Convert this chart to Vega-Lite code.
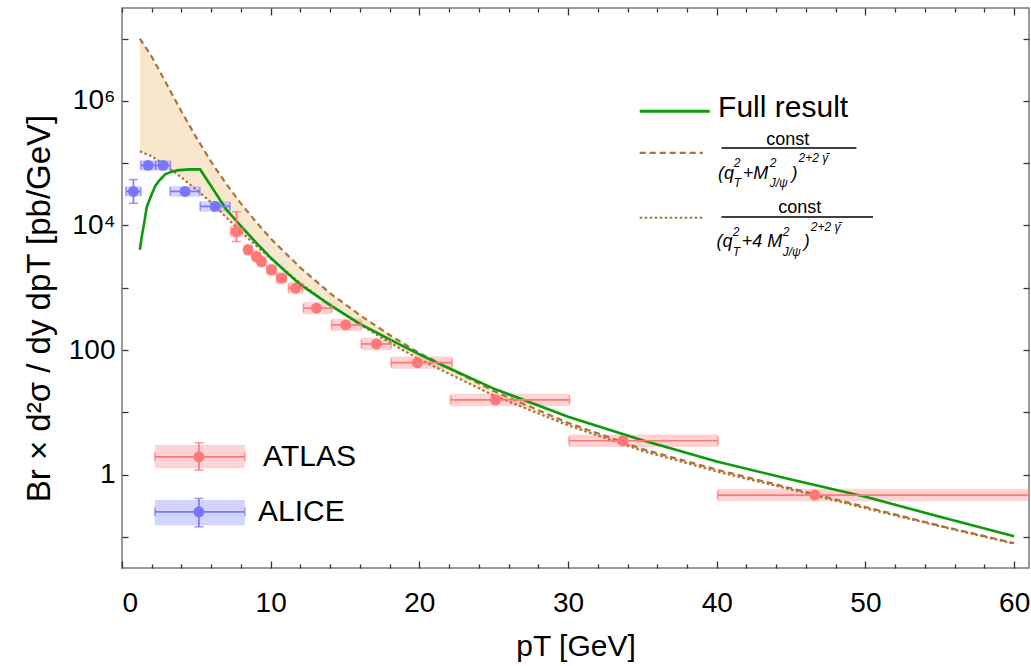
{
  "$schema": "https://vega.github.io/schema/vega-lite/v6.json",
  "width": 907,
  "height": 560,
  "autosize": {"type": "none"},
  "padding": {"left": 122, "top": 8, "right": 2, "bottom": 98},
  "background": "white",
  "config": {
    "view": {"stroke": "#7a7a7a", "strokeWidth": 1.5},
    "font": "Liberation Sans",
    "axis": {"labelFont": "Liberation Sans", "titleFont": "Liberation Sans", "labelColor": "black", "titleColor": "black", "domain": false, "tickColor": "#333", "tickWidth": 1.3, "grid": false, "titleFontWeight": "normal", "labelOverlap": false, "zindex": 1}
  },
  "datasets": {
    "full": [
      {"pt": 1.2, "v": 4070}, {"pt": 1.35, "v": 7080}, {"pt": 1.5, "v": 11200}, {"pt": 1.67, "v": 20000},
      {"pt": 2, "v": 31600}, {"pt": 2.23, "v": 42700}, {"pt": 2.5, "v": 52500}, {"pt": 2.9, "v": 66100},
      {"pt": 3.3, "v": 72400}, {"pt": 3.7, "v": 76700}, {"pt": 4.5, "v": 79400}, {"pt": 5.25, "v": 79400},
      {"pt": 6, "v": 42700}, {"pt": 7, "v": 18200}, {"pt": 8, "v": 9770}, {"pt": 9, "v": 5370},
      {"pt": 10, "v": 3020}, {"pt": 11, "v": 1820}, {"pt": 12, "v": 1120}, {"pt": 14, "v": 525},
      {"pt": 16, "v": 263}, {"pt": 18, "v": 148}, {"pt": 20, "v": 85}, {"pt": 22, "v": 51},
      {"pt": 25, "v": 24}, {"pt": 30, "v": 8.5}, {"pt": 35, "v": 3.55}, {"pt": 40, "v": 1.62},
      {"pt": 45, "v": 0.83}, {"pt": 50, "v": 0.44}, {"pt": 55, "v": 0.21}, {"pt": 60, "v": 0.102}
    ],
    "band": [
      {"pt": 1.2, "up": 1.0e7, "lo": 155000}, {"pt": 2, "up": 5130000, "lo": 129000},
      {"pt": 3, "up": 1860000, "lo": 89100}, {"pt": 4, "up": 676000, "lo": 58900},
      {"pt": 5, "up": 257000, "lo": 37200}, {"pt": 6, "up": 105000, "lo": 23400},
      {"pt": 7, "up": 46800, "lo": 13500}, {"pt": 8, "up": 22400, "lo": 7940},
      {"pt": 9, "up": 11500, "lo": 4790}, {"pt": 10, "up": 6170, "lo": 2950},
      {"pt": 12, "up": 2090, "lo": 1175}, {"pt": 14, "up": 813, "lo": 525},
      {"pt": 16, "up": 363, "lo": 257}, {"pt": 18, "up": 174, "lo": 132},
      {"pt": 20, "up": 89, "lo": 70.8}, {"pt": 25, "up": 21.9, "lo": 18.6},
      {"pt": 30, "up": 6.76, "lo": 6.17}, {"pt": 35, "up": 2.57, "lo": 2.4},
      {"pt": 40, "up": 1.2, "lo": 1.12}, {"pt": 45, "up": 0.603, "lo": 0.575},
      {"pt": 50, "up": 0.302, "lo": 0.288}, {"pt": 55, "up": 0.151, "lo": 0.148},
      {"pt": 60, "up": 0.0794, "lo": 0.0776}
    ],
    "points": [
      {"exp": "ATLAS", "pt": 7.7, "v": 7980, "xlo": 7.3, "xhi": 8.1, "ylo": 5500, "yhi": 16600, "blo": 6300, "bhi": 10100},
      {"exp": "ATLAS", "pt": 8.48, "v": 4070, "xlo": 8.25, "xhi": 8.75, "ylo": 3700, "yhi": 4480, "blo": 3230, "bhi": 5130},
      {"exp": "ATLAS", "pt": 9.04, "v": 3170, "xlo": 8.8, "xhi": 9.3, "ylo": 2880, "yhi": 3490, "blo": 2520, "bhi": 3990},
      {"exp": "ATLAS", "pt": 9.38, "v": 2630, "xlo": 9.15, "xhi": 9.65, "ylo": 2390, "yhi": 2890, "blo": 2090, "bhi": 3310},
      {"exp": "ATLAS", "pt": 10.05, "v": 1940, "xlo": 9.75, "xhi": 10.35, "ylo": 1770, "yhi": 2130, "blo": 1540, "bhi": 2440},
      {"exp": "ATLAS", "pt": 10.73, "v": 1426, "xlo": 10.4, "xhi": 11.05, "ylo": 1300, "yhi": 1570, "blo": 1130, "bhi": 1800},
      {"exp": "ATLAS", "pt": 11.67, "v": 986, "xlo": 11.2, "xhi": 12.15, "ylo": 900, "yhi": 1080, "blo": 780, "bhi": 1240},
      {"exp": "ATLAS", "pt": 13.08, "v": 470, "xlo": 12.2, "xhi": 14.1, "ylo": 430, "yhi": 517, "blo": 373, "bhi": 592},
      {"exp": "ATLAS", "pt": 15.05, "v": 253, "xlo": 14.1, "xhi": 16.1, "ylo": 230, "yhi": 278, "blo": 201, "bhi": 319},
      {"exp": "ATLAS", "pt": 17.11, "v": 125, "xlo": 16.1, "xhi": 18.1, "ylo": 114, "yhi": 137, "blo": 99, "bhi": 157},
      {"exp": "ATLAS", "pt": 19.87, "v": 62.7, "xlo": 18.1, "xhi": 22.2, "ylo": 57, "yhi": 69, "blo": 50, "bhi": 79},
      {"exp": "ATLAS", "pt": 25.12, "v": 15.8, "xlo": 22.1, "xhi": 30.1, "ylo": 14.4, "yhi": 17.4, "blo": 12.5, "bhi": 19.9},
      {"exp": "ATLAS", "pt": 33.7, "v": 3.49, "xlo": 30.07, "xhi": 40.08, "ylo": 3.18, "yhi": 3.84, "blo": 2.77, "bhi": 4.4},
      {"exp": "ATLAS", "pt": 46.59, "v": 0.468, "xlo": 40.06, "xhi": 70, "ylo": 0.426, "yhi": 0.515, "blo": 0.372, "bhi": 0.59},
      {"exp": "ALICE", "pt": 0.77, "v": 35200, "xlo": 0.27, "xhi": 1.27, "ylo": 22700, "yhi": 54500, "blo": 29000, "bhi": 42700},
      {"exp": "ALICE", "pt": 1.76, "v": 92200, "xlo": 1.26, "xhi": 2.26, "ylo": 82000, "yhi": 103700, "blo": 76000, "bhi": 111800},
      {"exp": "ALICE", "pt": 2.76, "v": 92200, "xlo": 2.26, "xhi": 3.26, "ylo": 82000, "yhi": 103700, "blo": 76000, "bhi": 111800},
      {"exp": "ALICE", "pt": 4.24, "v": 35200, "xlo": 3.24, "xhi": 5.24, "ylo": 31400, "yhi": 39500, "blo": 29000, "bhi": 42700},
      {"exp": "ALICE", "pt": 6.26, "v": 20200, "xlo": 5.26, "xhi": 7.26, "ylo": 18000, "yhi": 22700, "blo": 16600, "bhi": 24500},
      {"exp": "ATLAS", "pt": 5.17, "v": 1.93, "xlo": 2.21, "xhi": 8.26, "ylo": 1.18, "yhi": 3.24, "blo": 1.26, "bhi": 2.98},
      {"exp": "ALICE", "pt": 5.17, "v": 0.252, "xlo": 2.21, "xhi": 8.26, "ylo": 0.145, "yhi": 0.414, "blo": 0.154, "bhi": 0.389}
    ]
  },
  "layer": [
    {
      "layer": [
        {
          "data": {"name": "band"},
          "mark": {"type": "area", "color": "#f8e7cd", "opacity": 1},
          "encoding": {
            "x": {"field": "pt", "type": "quantitative", "title": "pT [GeV]",
              "scale": {"domain": [0, 61], "nice": false, "zero": false, "clamp": true},
              "axis": {"orient": "bottom", "values": [0, 10, 20, 30, 40, 50, 60], "labelOverlap": false,
                "offset": -7, "tickSize": 7, "labelPadding": 21, "labelFontSize": 28, "titleFontSize": 30, "titlePadding": 14}},
            "y": {"field": "up", "type": "quantitative", "title": "Br × d²σ / dy dpT [pb/GeV]",
              "scale": {"type": "log", "domain": [0.0316, 31000000], "nice": false},
              "axis": {"orient": "left", "values": [0.1, 1, 10, 100, 1000, 10000, 100000, 1000000, 10000000],
                "labelExpr": "datum.value == 1 ? '1' : datum.value == 100 ? '100' : datum.value == 10000 ? '10⁴' : datum.value == 1000000 ? '10⁶' : ''", "labelOverlap": false,
                "offset": -6, "tickSize": 6, "labelPadding": 7, "labelFontSize": 28, "titleFontSize": 33, "titlePadding": 12, "titleY": 300}},
            "y2": {"field": "lo"}
          }
        },
        {
          "data": {"name": "points"},
          "mark": {"type": "rect", "opacity": 0.33},
          "encoding": {
            "x": {"field": "xlo", "type": "quantitative", "title": "pT [GeV]"},
            "x2": {"field": "xhi"},
            "y": {"field": "blo", "type": "quantitative", "title": "Br × d²σ / dy dpT [pb/GeV]"},
            "y2": {"field": "bhi"},
            "color": {"field": "exp", "type": "nominal", "scale": {"domain": ["ATLAS", "ALICE"], "range": ["#ff7878", "#7878ff"]}, "legend": null}
          }
        },
        {
          "data": {"name": "band"},
          "mark": {"type": "line", "color": "#a8743c", "strokeWidth": 2.2, "strokeDash": [6, 4]},
          "encoding": {"x": {"field": "pt", "type": "quantitative", "title": "pT [GeV]"}, "y": {"field": "up", "type": "quantitative", "title": "Br × d²σ / dy dpT [pb/GeV]"}}
        },
        {
          "data": {"name": "band"},
          "mark": {"type": "line", "color": "#a8743c", "strokeWidth": 2.2, "strokeDash": [2.5, 2.5]},
          "encoding": {"x": {"field": "pt", "type": "quantitative", "title": "pT [GeV]"}, "y": {"field": "lo", "type": "quantitative", "title": "Br × d²σ / dy dpT [pb/GeV]"}}
        },
        {
          "data": {"name": "full"},
          "mark": {"type": "line", "color": "#0b9a0b", "strokeWidth": 2.6},
          "encoding": {"x": {"field": "pt", "type": "quantitative", "title": "pT [GeV]"}, "y": {"field": "v", "type": "quantitative", "title": "Br × d²σ / dy dpT [pb/GeV]"}}
        },
        {
          "data": {"name": "points"},
          "mark": {"type": "errorbar", "ticks": {"size": 9, "thickness": 1.6}, "rule": {"strokeWidth": 1.7}},
          "encoding": {
            "x": {"field": "xlo", "type": "quantitative", "title": "pT [GeV]"},
            "x2": {"field": "xhi"},
            "y": {"field": "v", "type": "quantitative", "title": "Br × d²σ / dy dpT [pb/GeV]"},
            "color": {"field": "exp", "type": "nominal", "legend": null}
          }
        },
        {
          "data": {"name": "points"},
          "mark": {"type": "errorbar", "ticks": {"size": 9, "thickness": 1.6}, "rule": {"strokeWidth": 1.7}},
          "encoding": {
            "y": {"field": "ylo", "type": "quantitative", "title": "Br × d²σ / dy dpT [pb/GeV]"},
            "y2": {"field": "yhi"},
            "x": {"field": "pt", "type": "quantitative", "title": "pT [GeV]"},
            "color": {"field": "exp", "type": "nominal", "legend": null}
          }
        },
        {
          "data": {"name": "points"},
          "mark": {"type": "point", "filled": true, "shape": "circle", "size": 120, "opacity": 1},
          "encoding": {
            "x": {"field": "pt", "type": "quantitative", "title": "pT [GeV]"},
            "y": {"field": "v", "type": "quantitative", "title": "Br × d²σ / dy dpT [pb/GeV]"},
            "color": {"field": "exp", "type": "nominal", "legend": null}
          }
        },
        {
          "data": {"values": [{"x1": 34.82, "x2": 39.53, "y": 681000}]},
          "mark": {"type": "rule", "color": "#0b9a0b", "strokeWidth": 3},
          "encoding": {"x": {"field": "x1", "type": "quantitative", "title": "pT [GeV]"}, "x2": {"field": "x2"}, "y": {"field": "y", "type": "quantitative", "title": "Br × d²σ / dy dpT [pb/GeV]"}}
        },
        {
          "data": {"values": [{"x1": 34.82, "x2": 39.06, "y": 145900}]},
          "mark": {"type": "rule", "color": "#a8743c", "strokeWidth": 2.2, "strokeDash": [6, 4]},
          "encoding": {"x": {"field": "x1", "type": "quantitative", "title": "pT [GeV]"}, "x2": {"field": "x2"}, "y": {"field": "y", "type": "quantitative", "title": "Br × d²σ / dy dpT [pb/GeV]"}}
        },
        {
          "data": {"values": [{"x1": 34.82, "x2": 39.06, "y": 13300}]},
          "mark": {"type": "rule", "color": "#a8743c", "strokeWidth": 2.2, "strokeDash": [2.5, 2.5]},
          "encoding": {"x": {"field": "x1", "type": "quantitative", "title": "pT [GeV]"}, "x2": {"field": "x2"}, "y": {"field": "y", "type": "quantitative", "title": "Br × d²σ / dy dpT [pb/GeV]"}}
        },
        {
          "data": {"values": [{"x1": 40.32, "x2": 49.39, "y": 175400}, {"x1": 40.32, "x2": 50.51, "y": 13650}]},
          "mark": {"type": "rule", "color": "black", "strokeWidth": 1.6},
          "encoding": {"x": {"field": "x1", "type": "quantitative", "title": "pT [GeV]"}, "x2": {"field": "x2"}, "y": {"field": "y", "type": "quantitative", "title": "Br × d²σ / dy dpT [pb/GeV]"}}
        },
        {
          "data": {"values": [{"t": "Full result", "x": 40.09, "y": 771000}, {"t": "ATLAS", "x": 9.49, "y": 1.93}, {"t": "ALICE", "x": 9.15, "y": 0.252}]},
          "mark": {"type": "text", "align": "left", "baseline": "middle", "fontSize": 30, "font": "Liberation Sans", "color": "black"},
          "encoding": {"x": {"field": "x", "type": "quantitative", "title": "pT [GeV]"}, "y": {"field": "y", "type": "quantitative", "title": "Br × d²σ / dy dpT [pb/GeV]"}, "text": {"field": "t"}}
        },
        {
          "data": {"values": [{"t": "const", "x": 44.77, "y": 239000}, {"t": "const", "x": 45.58, "y": 19300}]},
          "mark": {"type": "text", "align": "center", "baseline": "middle", "fontSize": 18, "font": "Liberation Sans", "color": "black"},
          "encoding": {"x": {"field": "x", "type": "quantitative", "title": "pT [GeV]"}, "y": {"field": "y", "type": "quantitative", "title": "Br × d²σ / dy dpT [pb/GeV]"}, "text": {"field": "t"}}
        },
        {
          "data": {"values": [
            {"t": "(q", "x": 40.09, "y": 67800}, {"t": "+M", "x": 41.75, "y": 67800}, {"t": ")", "x": 45.03, "y": 67800},
            {"t": "(q", "x": 39.98, "y": 5470}, {"t": "+4 M", "x": 41.68, "y": 5470}, {"t": ")", "x": 45.85, "y": 5470}
          ]},
          "mark": {"type": "text", "align": "left", "baseline": "middle", "fontSize": 18, "fontStyle": "italic", "font": "Liberation Sans", "color": "black"},
          "encoding": {"x": {"field": "x", "type": "quantitative", "title": "pT [GeV]"}, "y": {"field": "y", "type": "quantitative", "title": "Br × d²σ / dy dpT [pb/GeV]"}, "text": {"field": "t"}}
        },
        {
          "data": {"values": [
            {"t": "2", "x": 41.14, "y": 102000}, {"t": "T", "x": 41.14, "y": 48600}, {"t": "2", "x": 43.56, "y": 102000}, {"t": "J/ψ", "x": 43.56, "y": 48600}, {"t": "2+2 γ̄", "x": 45.5, "y": 122500},
            {"t": "2", "x": 41.07, "y": 7920}, {"t": "T", "x": 41.07, "y": 3780}, {"t": "2", "x": 44.44, "y": 7920}, {"t": "J/ψ", "x": 44.44, "y": 3780}, {"t": "2+2 γ̄", "x": 46.32, "y": 9530}
          ]},
          "mark": {"type": "text", "align": "left", "baseline": "middle", "fontSize": 12, "fontStyle": "italic", "font": "Liberation Sans", "color": "black"},
          "encoding": {"x": {"field": "x", "type": "quantitative", "title": "pT [GeV]"}, "y": {"field": "y", "type": "quantitative", "title": "Br × d²σ / dy dpT [pb/GeV]"}, "text": {"field": "t"}}
        }
      ]
    },
    {
      "data": {"name": "full"},
      "mark": {"type": "point", "opacity": 0},
      "encoding": {
        "x": {"field": "pt", "type": "quantitative",
          "axis": {"orient": "top", "values": [0,2,4,6,8,12,14,16,18,22,24,26,28,32,34,36,38,42,44,46,48,52,54,56,58],
            "labels": false, "title": null, "offset": -4, "tickSize": 4}},
        "y": {"field": "v", "type": "quantitative",
          "axis": {"orient": "right", "values": [0.1, 1, 10, 100, 1000, 10000, 100000, 1000000, 10000000], "labels": false, "title": null, "offset": -6, "tickSize": 6}}
      }
    },
    {
      "data": {"name": "full"},
      "mark": {"type": "point", "opacity": 0},
      "encoding": {
        "x": {"field": "pt", "type": "quantitative",
          "axis": {"orient": "bottom", "values": [2,4,6,8,12,14,16,18,22,24,26,28,32,34,36,38,42,44,46,48,52,54,56,58],
            "labels": false, "title": null, "offset": -4, "tickSize": 4}},
        "y": {"field": "v", "type": "quantitative", "axis": null}
      }
    },
    {
      "data": {"name": "full"},
      "mark": {"type": "point", "opacity": 0},
      "encoding": {
        "x": {"field": "pt", "type": "quantitative",
          "axis": {"orient": "top", "values": [10, 20, 30, 40, 50, 60], "labels": false, "title": null, "offset": -7, "tickSize": 7}},
        "y": {"field": "v", "type": "quantitative", "axis": null}
      }
    }
  ],
  "resolve": {"axis": {"x": "independent", "y": "independent"}}
}
